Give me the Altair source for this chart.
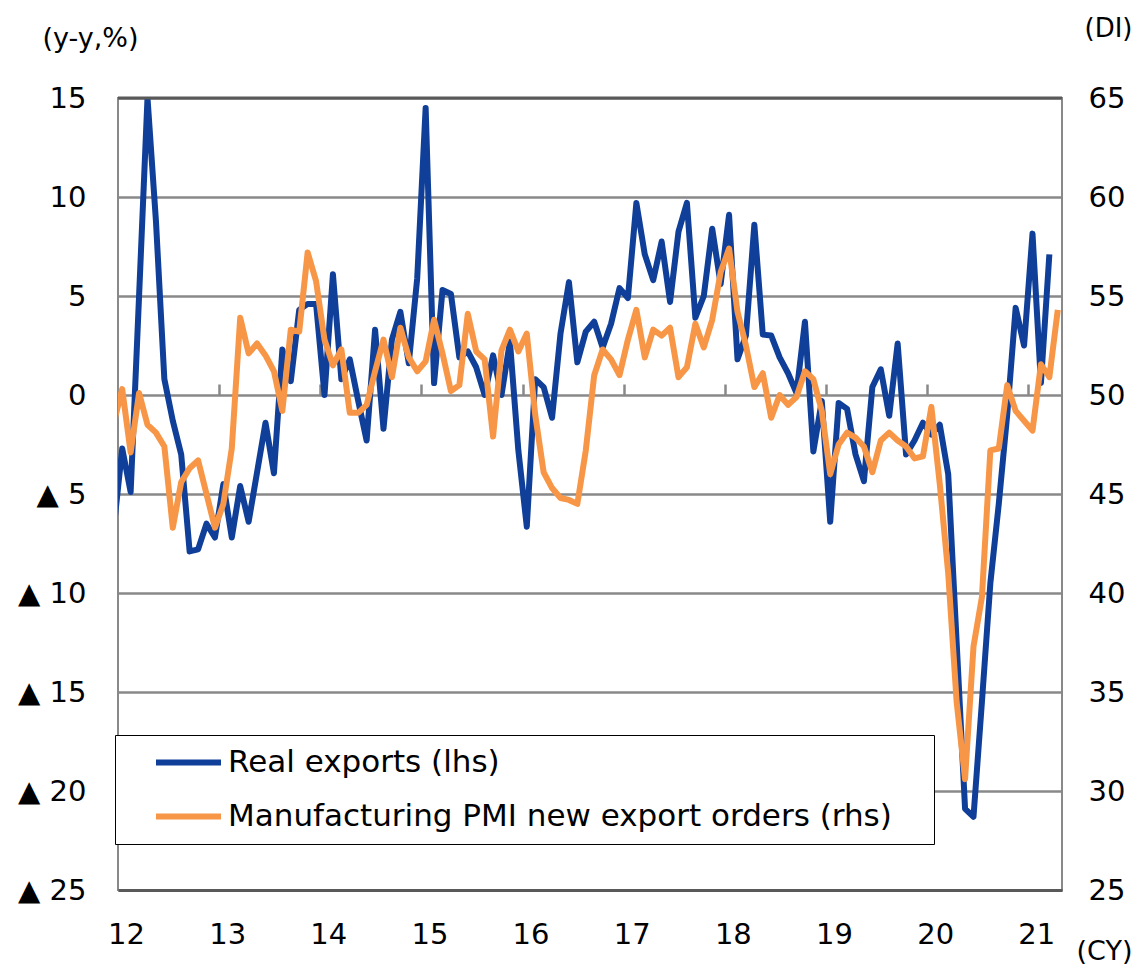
import altair as alt
import pandas as pd

# ---- data (monthly, first value = Dec 2011, clipped at the left edge) ----
real_exports = [
    -6.7,
    -2.7, -4.9, 5.0, 15.0, 8.8, 0.8, -1.3, -3.0, -7.9, -7.8, -6.5, -7.2,      # 2012
    -4.5, -7.2, -4.6, -6.4, -3.9, -1.4, -3.95, 2.3, 0.7, 4.3, 4.6, 4.6,        # 2013
    0.0, 6.1, 0.8, 1.8, -0.3, -2.3, 3.3, -1.7, 2.8, 4.2, 1.6, 5.9,             # 2014
    14.5, 0.6, 5.3, 5.1, 1.9, 2.2, 1.4, 0.0, 2.0, 0.0, 2.7, -2.8,              # 2015
    -6.65, 0.8, 0.4, -1.15, 3.1, 5.7, 1.65, 3.2, 3.7, 2.4, 3.6, 5.4,           # 2016
    4.9, 9.7, 7.1, 5.8, 7.75, 4.7, 8.25, 9.7, 3.9, 5.0, 8.4, 5.6,              # 2017
    9.1, 1.8, 3.0, 8.6, 3.05, 3.0, 1.9, 1.1, 0.1, 3.7, -2.85, -0.3,            # 2018
    -6.4, -0.4, -0.7, -3.0, -4.35, 0.4, 1.3, -1.05, 2.6, -3.0, -2.3, -1.4,     # 2019
    -2.0, -1.5, -4.0, -12.5, -20.9, -21.3, -15.5, -9.5, -5.5, -1.0, 4.4, 2.5,  # 2020
    8.15, 0.6, 7.1,                                                            # 2021
]
pmi_new_export_orders = [
    48.6,
    50.3, 47.1, 50.1, 48.5, 48.1, 47.4, 43.3, 45.6, 46.3, 46.7, 45.0, 43.3,    # 2012
    44.5, 47.3, 53.9, 52.1, 52.6, 52.0, 51.2, 49.2, 53.3, 53.2, 57.2, 55.75,   # 2013
    52.8, 51.5, 52.3, 49.1, 49.1, 49.5, 51.2, 52.8, 50.9, 53.4, 51.9, 51.2,    # 2014
    51.7, 53.8, 52.1, 50.2, 50.5, 54.1, 52.2, 51.8, 47.9, 52.25, 53.3, 52.2,   # 2015
    53.1, 49.0, 46.1, 45.3, 44.8, 44.7, 44.5, 47.2, 51.0, 52.3, 51.8, 51.0,    # 2016
    52.8, 54.3, 51.9, 53.3, 53.0, 53.4, 50.9, 51.4, 53.6, 52.4, 53.8, 56.2,    # 2017
    57.4, 54.2, 52.5, 50.4, 51.1, 48.85, 50.0, 49.5, 49.9, 51.2, 50.8, 49.2,   # 2018
    46.0, 47.5, 48.1, 47.85, 47.4, 46.1, 47.7, 48.1, 47.7, 47.4, 46.8, 46.9,   # 2019
    49.4, 45.5, 41.0, 34.5, 30.6, 37.3, 39.8, 47.2, 47.3, 50.5, 49.2, 48.7,    # 2020
    48.2, 51.55, 50.9, 54.3,                                                   # 2021
]
series_names = ["Real exports (lhs)", "Manufacturing PMI new export orders (rhs)"]
series_colors = ["#0F3F98", "#F79646"]
left_ticks = [-25, -20, -15, -10, -5, 0, 5, 10, 15]
right_ticks = [25, 30, 35, 40, 45, 50, 55, 60, 65]
year_starts = [0, 12, 24, 36, 48, 60, 72, 84, 96, 108]   # month index of each January (0 = Jan 2012)
x_domain = [0, 112]

FONT = "DejaVu Sans"
GRID = "#898989"
DARK = "#595959"

blue_df = pd.DataFrame({
    "m": list(range(-1, -1 + len(real_exports))),
    "v": real_exports,
    "series": series_names[0],
})
orange_df = pd.DataFrame({
    "m": list(range(-1, -1 + len(pmi_new_export_orders))),
    "v": pmi_new_export_orders,
    "series": series_names[1],
})
top_df = pd.DataFrame({"v": [max(left_ticks)]})

color_scale = alt.Scale(domain=series_names, range=series_colors)
legend = alt.Legend(
    title=None, orient="none", legendX=-3, legendY=637,
    direction="vertical", fillColor="white", strokeColor="black",
    padding=12, symbolType="stroke", symbolSize=4225, symbolStrokeWidth=6,
    symbolOffset=26, labelOffset=4, clipHeight=31, rowPadding=22,
    labelFontSize=31, labelFont=FONT, labelColor="black", labelLimit=1000,
    labelExpr="datum.label + '\u00a0\u00a0\u00a0\u200b'",
)

blue = alt.Chart(blue_df).transform_calculate(xpos="datum.m + 0.5").mark_line(
    strokeWidth=6, strokeJoin="round", clip=True
).encode(
    x=alt.X("xpos:Q", scale=alt.Scale(domain=x_domain, nice=False, zero=False),
            axis=alt.Axis(orient="bottom", values=year_starts, grid=False, ticks=False,
                          domain=True, domainColor=DARK, domainWidth=3,
                          labelExpr="'' + (12 + round(datum.value / 12))",
                          labelFlush=False, labelOverlap=False,
                          labelFontSize=29, labelPadding=30, labelOffset=8,
                          labelColor="black", labelFont=FONT,
                          title="(CY)", titleAngle=0, titleX=1014, titleY=61,
                          titleAlign="right", titleBaseline="middle",
                          titleFontSize=27, titleFontWeight="normal", titleFont=FONT)),
    y=alt.Y("v:Q", scale=alt.Scale(domain=[-25, 15], nice=False, zero=False),
            axis=alt.Axis(orient="left", values=left_ticks, grid=True, gridColor=GRID,
                          gridWidth=2.5, ticks=False, domain=False,
                          labelExpr="datum.value < 0 ? '\u25B2 ' + abs(datum.value) : datum.label",
                          labelFontSize=29, labelPadding=32, labelColor="black", labelFont=FONT,
                          title="(y-y,%)", titleAngle=0, titleX=-28, titleY=-60,
                          titleAlign="center", titleBaseline="middle",
                          titleFontSize=27, titleFontWeight="normal", titleFont=FONT)),
    color=alt.Color("series:N", scale=color_scale, legend=legend),
)

orange = alt.Chart(orange_df).transform_calculate(xpos="datum.m + 0.5").mark_line(
    strokeWidth=6, strokeJoin="round", clip=True
).encode(
    x=alt.X("xpos:Q", scale=alt.Scale(domain=x_domain, nice=False, zero=False),
            axis=alt.Axis(orient="top", offset=-297, values=year_starts[1:], grid=False,
                          ticks=True, tickSize=11, tickColor=GRID, tickWidth=2.5,
                          labels=False, domain=False, title=None)),
    y=alt.Y("v:Q", scale=alt.Scale(domain=[25, 65], nice=False, zero=False),
            axis=alt.Axis(orient="right", values=right_ticks, grid=False, ticks=False,
                          domain=False, labelFontSize=29, labelPadding=26,
                          labelColor="black", labelFont=FONT,
                          title="(DI)", titleAngle=0, titleX=70, titleY=-70,
                          titleAlign="right", titleBaseline="middle",
                          titleFontSize=26, titleFontWeight="normal", titleFont=FONT)),
    color=alt.Color("series:N", scale=color_scale, legend=legend),
)

top_line = alt.Chart(top_df).mark_rule(color=DARK, strokeWidth=3).encode(
    y=alt.Y("v:Q", scale=alt.Scale(domain=[-25, 15], nice=False, zero=False), axis=None)
)

chart = alt.layer(blue, orange, top_line).resolve_scale(
    x="independent", y="independent"
).properties(
    width=944, height=792,
    autosize=alt.AutoSizeParams(type="none"),
    padding={"left": 110, "top": 90, "right": 72, "bottom": 76},
    background="white",
).configure(font=FONT).configure_view(stroke=GRID, strokeWidth=2)

chart.save("out.html", embed_options={"renderer": "svg", "actions": False})
